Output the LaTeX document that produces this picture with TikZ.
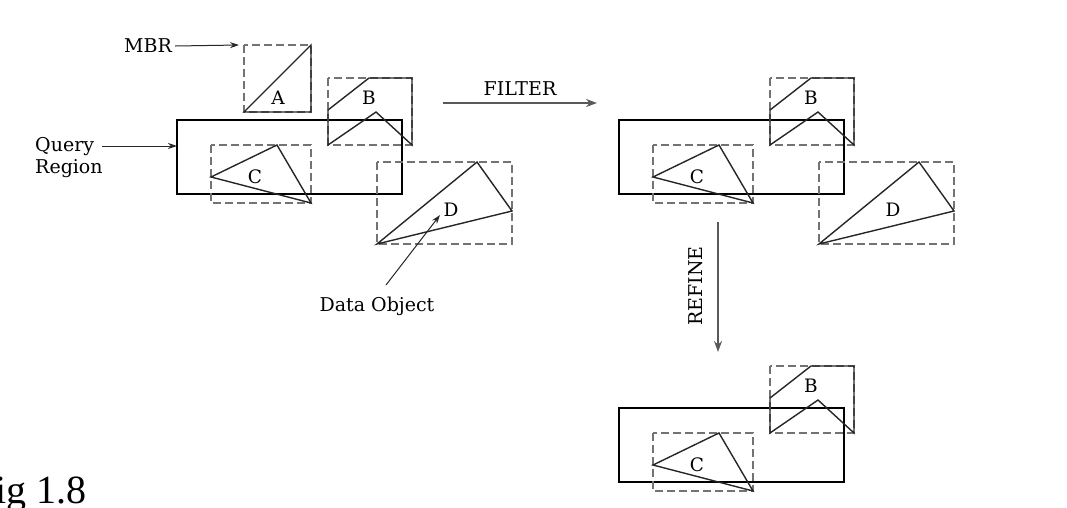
\documentclass[tikz,border=0pt]{standalone}
\usepackage{fontspec}
\setmainfont{DejaVu Serif}
\newfontfamily\figfont{Liberation Serif}
\usetikzlibrary{arrows.meta}

\newcommand\qrect[1]{\draw[qbox] (177,120) rectangle (402,194); \coordinate (Q#1) at (177,146);}
\newcommand\objA[1]{%
  \draw[mbr] (244,45) rectangle (311,112);
  \draw[obj] (244,112)--(311,45)--(311,112)--cycle;
  \node[lbl] (A#1) at (278,98) {A};}
\newcommand\objB[1]{%
  \draw[mbr] (328,78) rectangle (412,145);
  \draw[obj] (328,110)--(369,78)--(412,78)--(412,145)--(376,112)--(328,145)--cycle;
  \node[lbl] (B#1) at (369,98) {B};}
\newcommand\objC[1]{%
  \draw[mbr] (211,145) rectangle (311,203);
  \draw[obj] (211,177)--(277,145)--(311,203)--cycle;
  \node[lbl] (C#1) at (255,177) {C};}
\newcommand\objD[1]{%
  \draw[mbr] (377,162) rectangle (512,244);
  \draw[obj] (377,244)--(477,162)--(512,211)--cycle;
  \node[lbl] (D#1) at (451,210) {D};}

\begin{document}
\begin{tikzpicture}[x=1pt,y=-1pt,
  mbr/.style={draw=black!55, line width=1.7pt, dash pattern=on 8pt off 4pt},
  obj/.style={draw=black!85, line width=1.4pt, line join=miter},
  qbox/.style={draw=black, line width=2.4pt},
  lbl/.style={font=\fontsize{18.5}{21}\selectfont, inner sep=0pt},
  txt/.style={font=\fontsize{19}{22}\selectfont, inner sep=0pt},
  arr/.style={draw=black!85, line width=1pt, -{Stealth[length=9pt,width=6pt]}},
  bigarr/.style={draw=black!65, line width=2pt, -{Stealth[length=11pt,width=8pt]}}]
\useasboundingbox (0,0) rectangle (1067,507);
\clip (0,0) rectangle (1067,507);

% left group
\qrect{l}
\objA{l}
\objB{l}
\objC{l}
\objD{l}

% right top group
\begin{scope}[shift={(442,0)}]
\qrect{r}
\objB{r}
\objC{r}
\objD{r}
\end{scope}

% bottom group
\begin{scope}[shift={(442,288)}]
\qrect{b}
\objB{b}
\objC{b}
\end{scope}

% annotations
\node[txt] (mbr) at (148,46) {MBR};
\coordinate (mbrend) at (239,45);
\draw[arr] (mbr.east) ++(3,0) -- (mbrend);

\node[txt, anchor=base west] (query) at (35,151) {Query};
\node[txt, anchor=base west] (region) at (35,173) {Region};
\coordinate (qstart) at (102,146);
\draw[arr] (qstart) -- (Ql);

\node[txt, anchor=base] (dobj) at (377,311) {Data Object};
\coordinate (dstart) at (386,285);
\coordinate (dend) at (440,215);
\draw[arr] (dstart) -- (dend);

\node[txt] (filter) at (520,89) {FILTER};
\coordinate (f1) at (443,103);
\coordinate (f2) at (597,103);
\draw[bigarr] (f1) -- (f2);

\node[txt, rotate=90] (refine) at (696,286) {REFINE};
\coordinate (r1) at (718,222);
\coordinate (r2) at (718,352);
\draw[bigarr] (r1) -- (r2);

\node[font=\figfont\fontsize{40}{44}\selectfont, anchor=base west, inner sep=0pt] (fig) at (-27,503) {Fig 1.8};
\end{tikzpicture}
\end{document}
